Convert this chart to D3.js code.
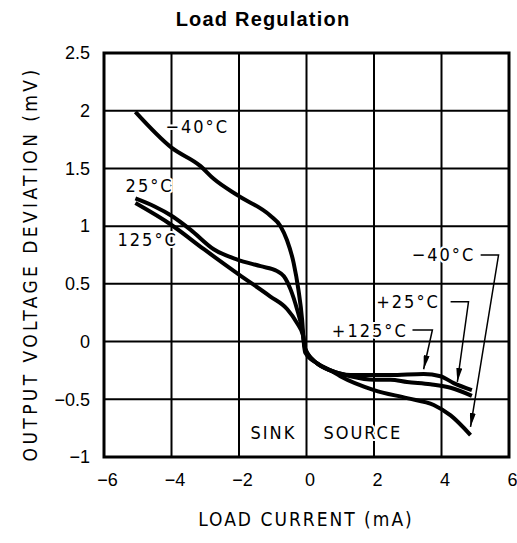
<!DOCTYPE html>
<html>
<head>
<meta charset="utf-8">
<script src="https://cdn.jsdelivr.net/npm/d3@7"></script>
<style>
  body { margin: 0; background: #fff; }
  svg { display: block; }
  .tick-label { font-family: "Liberation Sans", Arial, sans-serif; font-size: 18px; fill: #000; }
  .tech { font-family: "DejaVu Sans Condensed", "DejaVu Sans", sans-serif; font-weight: 300; fill: #000; }
</style>
</head>
<body>
<svg></svg>
<script>
// axis ticks
let xTicks = [-6, -4, -2, 0, 2, 4, 6]
let yTicks = [-1, -0.5, 0, 0.5, 1, 1.5, 2, 2.5]
let yTickLabels = ["\u22121", "\u22120.5", "0", "0.5", "1", "1.5", "2", "2.5"]
let xTickLabels = ["\u22126", "\u22124", "\u22122", "0", "2", "4", "6"]

// -40 C curve (load current mA, deviation mV)
let xM40 = [-5.07, -4, -3.14, -2.75, -2, -1.07, -0.77, -0.58, -0.38, -0.24, -0.13, -0.07, -0.03, 0.32, 0.71, 1.0, 2.0, 2.98, 3.77, 4.27, 4.86]
let yM40 = [1.99, 1.68, 1.52, 1.41, 1.26, 1.09, 1.0, 0.88, 0.68, 0.45, 0.19, -0.04, -0.10, -0.19, -0.25, -0.30, -0.42, -0.49, -0.55, -0.64, -0.81]

// 25 C curve
let x25 = [-5.07, -4.5, -4, -3.44, -2.75, -2.05, -1.36, -0.87, -0.67, -0.47, -0.28, -0.13, -0.03, 0.32, 0.71, 1.3, 2.0, 2.49, 2.98, 3.67, 4.27, 4.9]
let y25 = [1.24, 1.17, 1.09, 0.97, 0.80, 0.71, 0.653, 0.61, 0.566, 0.45, 0.28, 0.11, -0.07, -0.19, -0.25, -0.30, -0.33, -0.33, -0.35, -0.37, -0.40, -0.47]

// 125 C curve
let x125 = [-5.07, -4, -3.04, -2, -1.07, -0.57, -0.28, -0.1, -0.03, 0.32, 0.71, 1.3, 2.49, 3.47, 3.97, 4.36, 4.9]
let y125 = [1.2, 1.01, 0.80, 0.58, 0.39, 0.28, 0.16, 0.05, -0.07, -0.19, -0.25, -0.29, -0.29, -0.28, -0.30, -0.36, -0.42]

let width = 517
let height = 543
let padLeft = 104, padRight = 509, padTop = 53, padBottom = 457

let svg = d3.select("svg").attr("width", width).attr("height", height)

svg.append("defs").append("marker")
    .attr("id", "arrow")
    .attr("viewBox", "0 0 14 6")
    .attr("refX", 14).attr("refY", 3)
    .attr("markerWidth", 14).attr("markerHeight", 6)
    .attr("markerUnits", "userSpaceOnUse")
    .attr("orient", "auto")
    .append("path").attr("d", "M0,0 L14,3 L0,6 Z").attr("fill", "#000")

let xScale = d3.scaleLinear().domain([-6, 6]).range([padLeft, padRight])
let yScale = d3.scaleLinear().domain([-1, 2.5]).range([padBottom, padTop])

// title
svg.append("text")
    .attr("x", 263).attr("y", 26)
    .attr("text-anchor", "middle")
    .style("font-family", "'Liberation Sans', Arial, sans-serif")
    .style("font-weight", "bold")
    .style("font-size", "20px")
    .style("letter-spacing", "1.2px")
    .text("Load Regulation")

// grid
let grid = svg.append("g")
grid.selectAll(".vx").data(xTicks.slice(1, -1)).enter().append("line")
    .attr("x1", d => xScale(d)).attr("x2", d => xScale(d))
    .attr("y1", padTop).attr("y2", padBottom)
    .attr("stroke", "#000").attr("stroke-width", 2)
grid.selectAll(".hy").data(yTicks.slice(1, -1)).enter().append("line")
    .attr("y1", d => yScale(d)).attr("y2", d => yScale(d))
    .attr("x1", padLeft).attr("x2", padRight)
    .attr("stroke", "#000").attr("stroke-width", 2)

// tick labels through d3 axes (no tick lines)
let xAxis = d3.axisBottom(xScale).tickValues(xTicks).tickSize(0).tickPadding(16)
    .tickFormat((d, i) => xTickLabels[i])
let gx = svg.append("g").attr("transform", "translate(0," + padBottom + ")").call(xAxis)
gx.select(".domain").remove()
gx.selectAll("text").attr("class", "tick-label").attr("dx", 3)

let yAxis = d3.axisLeft(yScale).tickValues(yTicks).tickSize(0).tickPadding(14)
    .tickFormat((d, i) => yTickLabels[i])
let gy = svg.append("g").attr("transform", "translate(" + padLeft + ",0)").call(yAxis)
gy.select(".domain").remove()
gy.selectAll("text").attr("class", "tick-label")

// labels inside the plot (with white halo to break grid lines)
let addLabel = (txt, x, y, anchor) => {
    svg.append("text")
        .attr("class", "tech")
        .attr("x", xScale(x)).attr("y", yScale(y))
        .attr("dy", "0.36em")
        .attr("text-anchor", anchor)
        .style("font-size", "18px")
        .style("letter-spacing", "2px")
        .style("paint-order", "stroke")
        .attr("stroke", "#fff").attr("stroke-width", 4)
        .text(txt)
}

// curves
let line = d3.line()
    .x(d => xScale(d[0]))
    .y(d => yScale(d[1]))
    .curve(d3.curveMonotoneX)

let series = [
    [xM40, yM40],
    [x25, y25],
    [x125, y125]
]
svg.append("g").selectAll("path").data(series).enter().append("path")
    .attr("d", s => line(s[0].map((x, i) => [x, s[1][i]])))
    .attr("fill", "none")
    .attr("stroke", "#000")
    .attr("stroke-width", 4)
    .attr("stroke-linejoin", "round")

addLabel("\u221240\u00B0C", -4.18, 1.86, "start")
addLabel("25\u00B0C", -5.36, 1.35, "start")
addLabel("125\u00B0C", -5.6, 0.88, "start")
addLabel("SINK", -1.66, -0.79, "start")
addLabel("SOURCE", 0.5, -0.79, "start")
addLabel("+125\u00B0C", 3.0, 0.10, "end")
addLabel("+25\u00B0C", 3.95, 0.345, "end")
addLabel("\u221240\u00B0C", 5.0, 0.75, "end")

// callout leaders
let leaders = [
    [[3.14, 0.10], [3.73, 0.10], [3.47, -0.24]],
    [[4.27, 0.345], [4.8, 0.345], [4.47, -0.35]],
    [[5.16, 0.75], [5.69, 0.75], [4.86, -0.74]]
]
let straight = d3.line().x(d => xScale(d[0])).y(d => yScale(d[1]))
svg.append("g").selectAll("path").data(leaders).enter().append("path")
    .attr("d", d => straight(d))
    .attr("fill", "none")
    .attr("stroke", "#000")
    .attr("stroke-width", 1.5)
    .attr("marker-end", "url(#arrow)")

// frame
svg.append("rect")
    .attr("x", padLeft).attr("y", padTop)
    .attr("width", padRight - padLeft).attr("height", padBottom - padTop)
    .attr("fill", "none").attr("stroke", "#000").attr("stroke-width", 3)

// axis titles
svg.append("text")
    .attr("class", "tech")
    .attr("x", 306).attr("y", 526)
    .attr("text-anchor", "middle")
    .style("font-size", "19px")
    .style("letter-spacing", "2px")
    .text("LOAD CURRENT (mA)")

svg.append("text")
    .attr("class", "tech")
    .attr("transform", "translate(37,264) rotate(-90)")
    .attr("text-anchor", "middle")
    .style("font-size", "19px")
    .style("letter-spacing", "3.4px")
    .text("OUTPUT VOLTAGE DEVIATION (mV)")
</script>
</body>
</html>
